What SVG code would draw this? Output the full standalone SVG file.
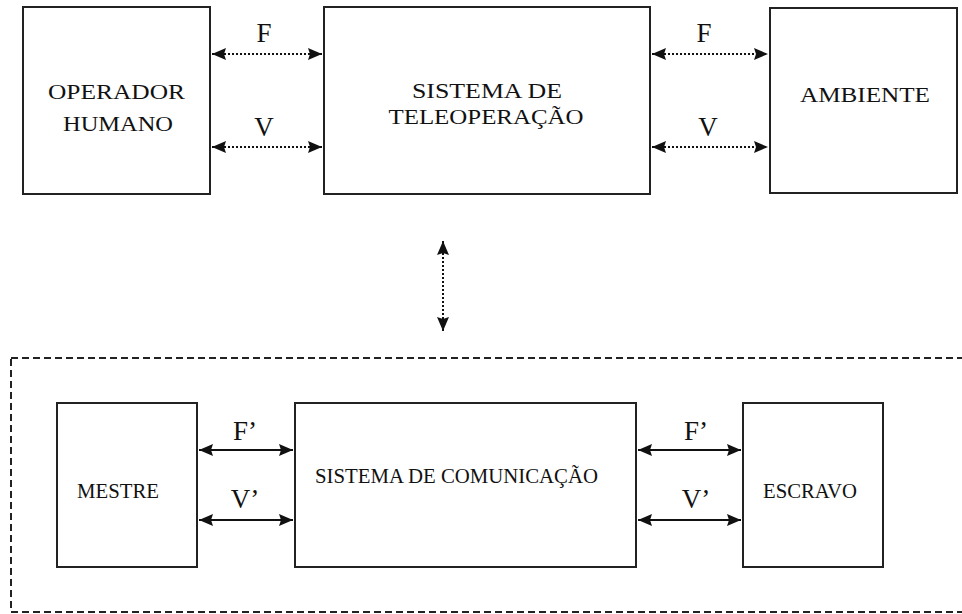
<svg xmlns="http://www.w3.org/2000/svg" width="962" height="614" viewBox="0 0 962 614">
<style>
.box{fill:#fff;stroke:#222;stroke-width:2}
.serif{font-family:"Liberation Serif","DejaVu Serif",serif;fill:#111}
.dot{stroke:#111;stroke-width:2;stroke-dasharray:2,2;fill:none}
.solid{stroke:#111;stroke-width:2;fill:none}
</style>
<defs>
<marker id="ah" viewBox="0 0 14 12" refX="14" refY="6" markerWidth="14" markerHeight="12" markerUnits="userSpaceOnUse" orient="auto-start-reverse">
<path d="M0,0 L14,6 L0,12 L2,6 Z" fill="#111"/>
</marker>
</defs>
<rect width="962" height="614" fill="#fff"/>
<g id="teleop-frame">
<rect x="11" y="358" width="960" height="254" fill="none" stroke="#222" stroke-width="2" stroke-dasharray="7,4"/>
</g>
<g id="operador">
<rect class="box" x="23" y="7" width="187" height="187"/>
<text class="serif" x="116.5" y="99" font-size="21" text-anchor="middle" textLength="137" lengthAdjust="spacingAndGlyphs">OPERADOR</text>
<text class="serif" x="118" y="131" font-size="21" text-anchor="middle" textLength="110" lengthAdjust="spacingAndGlyphs">HUMANO</text>
</g>
<g id="sistema-teleop">
<rect class="box" x="324" y="7" width="326" height="187"/>
<text class="serif" x="487" y="98" font-size="21" text-anchor="middle" textLength="150" lengthAdjust="spacingAndGlyphs">SISTEMA DE</text>
<text class="serif" x="486" y="124" font-size="21" text-anchor="middle" textLength="195" lengthAdjust="spacingAndGlyphs">TELEOPERAÇÃO</text>
</g>
<g id="ambiente">
<rect class="box" x="770" y="8" width="187" height="185"/>
<text class="serif" x="865" y="102" font-size="21" text-anchor="middle" textLength="130" lengthAdjust="spacingAndGlyphs">AMBIENTE</text>
</g>
<g id="mestre">
<rect class="box" x="57" y="403" width="140" height="164"/>
<text class="serif" x="118" y="498" font-size="22" text-anchor="middle" textLength="82" lengthAdjust="spacingAndGlyphs">MESTRE</text>
</g>
<g id="sistema-com">
<rect class="box" x="295" y="403" width="341" height="164"/>
<text class="serif" x="456.5" y="483" font-size="22" text-anchor="middle" textLength="283" lengthAdjust="spacingAndGlyphs">SISTEMA DE COMUNICAÇÃO</text>
</g>
<g id="escravo">
<rect class="box" x="743" y="403" width="140" height="164"/>
<text class="serif" x="810" y="498" font-size="22" text-anchor="middle" textLength="94" lengthAdjust="spacingAndGlyphs">ESCRAVO</text>
</g>
<g id="connectors">
<line class="dot" x1="212" y1="54" x2="322" y2="54" marker-start="url(#ah)" marker-end="url(#ah)"/>
<line class="dot" x1="212" y1="147" x2="322" y2="147" marker-start="url(#ah)" marker-end="url(#ah)"/>
<line class="dot" x1="652" y1="54" x2="768" y2="54" marker-start="url(#ah)" marker-end="url(#ah)"/>
<line class="dot" x1="652" y1="147" x2="768" y2="147" marker-start="url(#ah)" marker-end="url(#ah)"/>
<line class="dot" x1="443" y1="241" x2="443" y2="331" marker-start="url(#ah)" marker-end="url(#ah)"/>
<line class="solid" x1="199" y1="450" x2="293" y2="450" marker-start="url(#ah)" marker-end="url(#ah)"/>
<line class="solid" x1="199" y1="520" x2="293" y2="520" marker-start="url(#ah)" marker-end="url(#ah)"/>
<line class="solid" x1="638" y1="450" x2="741" y2="450" marker-start="url(#ah)" marker-end="url(#ah)"/>
<line class="solid" x1="638" y1="520" x2="741" y2="520" marker-start="url(#ah)" marker-end="url(#ah)"/>
<text class="serif" x="264" y="42" font-size="27" text-anchor="middle">F</text>
<text class="serif" x="264" y="136" font-size="27" text-anchor="middle">V</text>
<text class="serif" x="704" y="42" font-size="27" text-anchor="middle">F</text>
<text class="serif" x="708" y="136" font-size="27" text-anchor="middle">V</text>
<text class="serif" x="245" y="440" font-size="27" text-anchor="middle">F’</text>
<text class="serif" x="245" y="508" font-size="27" text-anchor="middle">V’</text>
<text class="serif" x="696" y="440" font-size="27" text-anchor="middle">F’</text>
<text class="serif" x="696" y="508" font-size="27" text-anchor="middle">V’</text>
</g>
</svg>
